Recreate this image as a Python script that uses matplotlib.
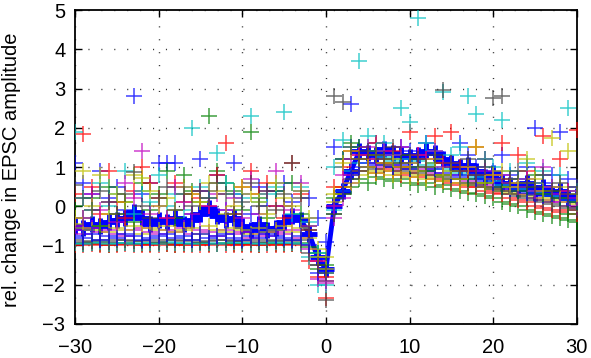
import numpy as np
import matplotlib
matplotlib.use("Agg")
import matplotlib.pyplot as plt

plt.rcParams['font.family'] = ['Liberation Sans', 'DejaVu Sans']

# time axis (min relative to event)
t = np.arange(-30, 31)

# mean trace
mean_trace = [
    -0.5, -0.55, -0.45, -0.5, -0.4, -0.35, -0.3, -0.15, -0.3, -0.45,
    -0.35, -0.4, -0.3, -0.45, -0.35, -0.2, -0.05, -0.25, -0.35, -0.3,
    -0.5, -0.6, -0.45, -0.6, -0.55, -0.4, -0.25, -0.35, -0.7, -1.3,
    -1.6, 0.0, 0.4, 0.9, 1.4, 1.35, 1.3, 1.45, 1.35, 1.3,
    1.25, 1.3, 1.4, 1.35, 1.2, 1.1, 1.0, 1.05, 0.9, 0.75,
    0.85, 0.6, 0.55, 0.45, 0.6, 0.35, 0.5, 0.3, 0.4, 0.2, 0.25,
]

# single experiments
cell_01 = [
    1.1, 0.6, 0.3, 0.9, 0.2, 0.5, -0.1, 2.8, 0.3, 0.6,
    1.1, 1.1, 1.1, 0.5, -0.2, 1.2, 0.4, 0.8, -0.1, 1.1,
    0.3, -0.2, 0.5, 0.0, 0.4, 0.6, 0.1, 0.4, 0.2, -0.3,
    -0.9, 1.5, 1.2, 2.6, 1.5, 1.4, 1.6, 1.3, 1.2, 1.5,
    1.4, 1.2, 1.6, 1.3, 1.1, 1.0, 1.6, 1.3, 1.0, 1.2,
    0.9, 1.3, 0.8, 0.7, 1.0, 2.0, 0.6, 0.8, 1.9, 0.7, 0.5,
]
cell_02 = [
    -0.95, -0.97, -0.93, -0.96, -0.98, -0.95, -0.94, -0.97, -0.96, -0.95,
    -0.93, -0.96, -0.98, -0.95, -0.97, -0.94, -0.96, -0.95, -0.93, -0.97,
    -0.96, -0.95, -0.98, -0.94, -0.96, -0.97, -0.95, -0.93, -1.05, -1.6,
    -1.9, -0.2, 0.3, 0.5, 0.7, 0.6, 0.75, 0.7, 0.65, 0.7,
    0.6, 0.55, 0.6, 0.5, 0.55, 0.45, 0.4, 0.35, 0.3, 0.25,
    0.2, 0.1, 0.05, 0.0, -0.1, -0.15, -0.2, -0.25, -0.3, -0.35, -0.4,
]
cell_03 = [
    -0.98, -1.0, -0.97, -0.99, -1.0, -0.98, -0.97, -1.0, -0.99, -0.98,
    -1.0, -0.97, -0.99, -1.0, -0.98, -0.99, -1.0, -0.97, -0.98, -1.0,
    -0.99, -1.0, -0.98, -0.99, -1.0, -0.98, -0.97, -0.99, -1.4, -1.8,
    -2.35, 0.0, 0.5, 0.8, 0.9, 1.0, 0.85, 0.95, 0.9, 0.8,
    0.85, 0.75, 0.8, 0.7, 0.65, 0.6, 0.55, 0.5, 0.5, 0.4,
    0.35, 0.3, 0.2, 0.15, 0.1, 0.0, -0.05, -0.1, -0.15, -0.1, -0.2,
]
cell_04 = [
    -0.93, -0.95, -0.94, -0.92, -0.95, -0.93, -0.94, -0.96, -0.93, -0.94,
    -0.95, -0.92, -0.94, -0.93, -0.95, -0.94, -0.93, -0.95, -0.94, -0.92,
    -0.94, -0.93, -0.95, -0.94, -0.92, -0.94, -0.93, -0.95, -1.3, -2.0,
    -1.7, -0.1, 0.4, 0.9, 1.1, 1.2, 1.1, 1.25, 1.15, 1.2,
    1.1, 1.15, 1.05, 1.0, 0.95, 0.9, 0.85, 0.8, 0.75, 0.7,
    0.65, 0.55, 0.5, 0.45, 0.4, 0.35, 0.3, 0.25, 0.2, 0.15, 0.1,
]
cell_05 = [
    -0.6, -0.7, -0.55, -0.65, -0.6, -0.7, -0.75, -0.6, -0.55, -0.65,
    -0.7, -0.6, -0.65, -0.55, -0.7, -0.6, -0.65, -0.75, -0.6, -0.7,
    -0.65, -0.8, -0.7, -0.75, -0.65, -0.7, -0.6, -0.8, -1.1, -1.85,
    -1.95, -0.3, 0.2, 0.6, 0.9, 1.0, 1.1, 1.0, 1.05, 0.95,
    1.0, 0.9, 0.95, 0.85, 0.8, 0.8, 0.7, 0.65, 0.6, 0.55,
    0.5, 0.45, 0.4, 0.3, 0.3, 0.2, 0.15, 0.1, 0.1, 0.0, -0.05,
]
cell_06 = [
    -0.45, -0.55, -0.6, -0.5, -0.65, -0.55, -0.6, -0.5, -0.7, -0.55,
    -0.6, -0.5, -0.65, -0.6, -0.55, -0.7, -0.5, -0.6, -0.65, -0.55,
    -0.6, -0.7, -0.55, -0.65, -0.6, -0.5, -0.65, -0.55, -0.8, -1.1,
    -1.3, 0.1, 0.5, 0.6, 0.8, 0.9, 0.85, 0.9, 0.8, 0.85,
    0.75, 0.8, 0.7, 0.75, 0.65, 0.7, 0.6, 0.55, 0.6, 0.5,
    0.45, 0.4, 0.35, 0.3, 0.25, 0.3, 0.2, 0.15, 0.2, 0.1, 0.05,
]
cell_07 = [
    -0.85, -0.9, -0.88, -0.86, -0.9, -0.87, -0.85, -0.89, -0.88, -0.86,
    -0.9, -0.87, -0.85, -0.88, -0.86, -0.9, -0.88, -0.87, -0.85, -0.89,
    -0.88, -0.86, -0.9, -0.87, -0.88, -0.85, -0.89, -0.87, -1.2, -1.5,
    -2.4, -0.2, 0.3, 0.7, 0.9, 1.0, 0.95, 1.05, 1.0, 0.9,
    0.95, 0.85, 0.9, 0.8, 0.75, 0.7, 0.7, 0.6, 0.55, 0.5,
    0.45, 0.4, 0.3, 0.25, 0.2, 0.15, 0.1, 0.05, 0.0, -0.05, -0.1,
]
cell_08 = [
    -0.75, -0.8, -0.7, -0.85, -0.75, -0.8, -0.7, -0.75, -0.85, -0.8,
    -0.75, -0.7, -0.8, -0.75, -0.85, -0.7, -0.8, -0.75, -0.7, -0.8,
    -0.85, -0.75, -0.8, -0.7, -0.75, -0.8, -0.85, -0.75, -1.0, -1.7,
    -1.6, 0.0, 0.4, 0.8, 1.0, 1.1, 1.05, 1.1, 1.0, 1.05,
    0.95, 1.0, 0.9, 0.95, 0.85, 0.8, 0.75, 0.8, 0.7, 0.65,
    0.6, 0.5, 0.45, 0.4, 0.35, 0.3, 0.25, 0.3, 0.2, 0.15, 0.1,
]
cell_09 = [
    0.0, -0.3, 0.2, -0.5, 0.5, -0.2, 0.1, -0.4, 0.6, -0.1,
    0.3, 0.9, -0.3, 0.8, 0.4, 0.1, 2.3, 0.9, 0.6, 0.4,
    -0.1, 1.9, 0.2, -0.3, 0.4, 0.0, 0.6, -0.2, -0.5, -1.2,
    -1.5, 0.2, 1.2, 1.6, 1.5, 1.3, 1.4, 1.2, 1.1, 1.3,
    1.0, 1.2, 0.9, 1.1, 0.8, 1.0, 0.9, 0.7, 0.8, 0.6,
    0.7, 0.5, 0.6, 0.4, 0.5, 0.8, 0.3, 0.4, 0.2, -0.2, 0.1,
]
cell_10 = [
    0.3, 1.85, 0.5, -0.2, 0.9, 0.1, -0.3, 0.4, 1.0, 0.6,
    0.2, -0.3, 0.6, 0.1, 0.3, 0.2, 0.0, 0.8, 1.6, -0.2,
    0.5, 0.9, 0.3, 0.6, 0.0, -0.3, 1.1, 0.3, -0.6, -1.4,
    -1.8, 0.5, 1.0, 1.4, 1.3, 1.2, 1.6, 1.1, 1.4, 1.0,
    1.9, 1.3, 1.2, 1.8, 1.1, 1.9, 1.0, 0.9, 1.5, 1.2,
    0.8, 1.6, 0.7, 1.3, 0.9, 0.6, 1.8, 0.5, 1.2, 0.4, 1.95,
]
cell_11 = [
    1.9, 0.2, -0.1, 0.6, 0.0, 0.3, 0.9, -0.2, 0.4, 0.1,
    0.8, 0.0, 0.3, -0.1, 2.0, 0.5, 0.2, 1.35, 0.6, 0.3,
    0.2, 2.3, 0.1, 0.3, 0.5, 2.4, -0.2, 0.5, -0.4, -1.2,
    -2.0, 1.0, 1.7, 1.5, 3.7, 1.8, 1.4, 1.6, 1.3, 2.5,
    2.15, 4.8, 1.6, 1.4, 2.9, 1.3, 1.5, 2.8, 2.35, 1.2,
    1.0, 2.2, 0.9, 0.7, 1.1, 0.6, 0.9, 0.5, 0.8, 2.5, 0.4,
]
cell_12 = [
    -0.5, -0.3, 0.3, -0.1, 0.1, -0.4, 0.6, 0.2, 1.4, -0.2,
    0.0, -0.3, 0.5, 0.1, -0.2, 0.4, 0.0, 0.3, -0.1, 0.2,
    -0.3, 0.7, -0.2, 0.4, 0.9, 0.0, -0.1, 0.6, -0.5, -1.4,
    -1.9, 0.0, 0.8, 1.2, 1.3, 1.5, 1.2, 1.4, 1.3, 1.5,
    1.1, 1.3, 1.2, 1.4, 1.0, 1.1, 0.9, 1.0, 0.8, 0.9,
    0.7, 0.8, 0.6, 0.5, 0.7, 0.4, 1.0, 0.5, 0.3, 0.4, 0.2,
]
cell_13 = [
    -0.3, 0.9, 0.0, 0.8, -0.2, 0.3, 0.1, 0.8, 0.72, 0.4,
    0.0, 0.2, -0.1, 0.5, 0.3, 0.1, 0.6, 0.4, -0.2, 0.0,
    0.5, 0.3, 0.1, -0.2, 0.6, 0.2, 0.0, 0.4, -0.3, -1.3,
    -1.6, 0.3, 1.1, 1.4, 1.2, 1.0, 1.3, 1.1, 1.2, 1.0,
    1.1, 0.9, 1.0, 1.2, 0.8, 0.9, 0.7, 1.0, 1.5, 0.6,
    0.8, 0.9, 0.5, 0.6, 1.2, 0.7, 0.4, 1.75, 0.5, 1.4, 0.3,
]
cell_14 = [
    0.55, 0.2, -0.1, 0.4, 0.1, -0.2, 0.3, 0.87, 0.0, -0.3,
    0.2, 0.5, -0.1, 0.3, 0.0, 0.4, 0.2, 0.6, 0.3, -0.2,
    0.1, 0.6, 0.0, 0.4, -0.1, 0.3, 1.1, 0.2, -0.6, -1.5,
    -1.7, 2.8, 2.65, 1.5, 1.2, 1.4, 1.3, 1.2, 1.5, 1.1,
    1.3, 1.2, 1.0, 1.3, 2.95, 1.1, 0.9, 1.2, 0.8, 1.0,
    2.75, 2.8, 0.7, 0.9, 0.6, 0.5, 0.8, 0.4, 0.6, 0.3, 0.5,
]

cells = [cell_01, cell_02, cell_03, cell_04, cell_05, cell_06, cell_07,
         cell_08, cell_09, cell_10, cell_11, cell_12, cell_13, cell_14]

# old matlab colour order b g r c m y k
col_order = [(0, 0, 1), (0, 0.5, 0), (1, 0, 0), (0, 0.75, 0.75),
             (0.75, 0, 0.75), (0.75, 0.75, 0), (0.25, 0.25, 0.25)]

fig = plt.figure(figsize=(5.91, 3.58), dpi=100)
ax = fig.add_axes([0.127, 0.095, 0.849, 0.877])

ax.plot(t, mean_trace, color='b', lw=3.5, marker='+', ms=11, mew=3.5, zorder=2)

for i, c in enumerate(cells):
    ax.plot(t, c, ls='none', marker='+', ms=12, mew=1.1,
            color=col_order[i % 7], alpha=0.75, zorder=3)

ax.set_xlim(-30, 30)
ax.set_ylim(-3, 5)
ax.set_xticks(np.arange(-30, 31, 10))
ax.set_yticks(np.arange(-3, 6, 1))
# sparse matlab-like dotted grid
ax.grid(True, color='k', lw=1.0, dashes=(0.8, 8.5), alpha=0.8)
ax.tick_params(direction='in', top=True, right=True, length=5, width=1,
               labelsize=14.5)
ax.tick_params(axis='x', pad=10)
ax.tick_params(axis='y', pad=7)
for s in ax.spines.values():
    s.set_linewidth(1.3)
ax.set_ylabel('rel. change in EPSC amplitude', fontsize=14.5)
ax.yaxis.set_label_coords(-0.108, 0.49)

fig.savefig('out.png', dpi=100)
